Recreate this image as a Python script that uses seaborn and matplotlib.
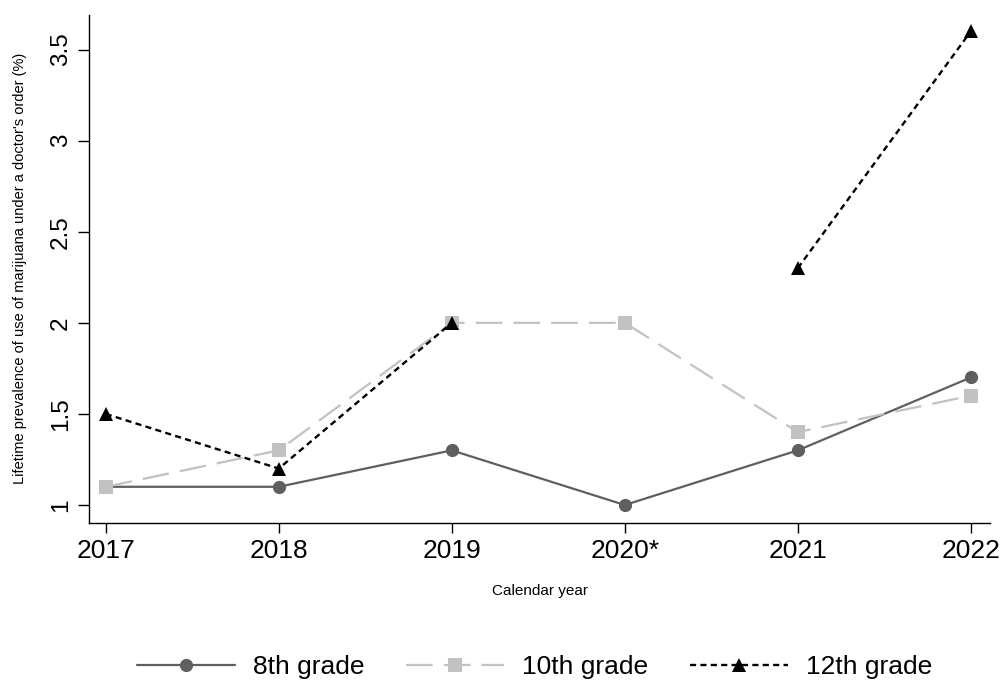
import numpy as np
import pandas as pd
import matplotlib
matplotlib.use("Agg")
import matplotlib.pyplot as plt
import seaborn as sns

# Survey years and lifetime prevalence (%) by grade
years = ["2017", "2018", "2019", "2020*", "2021", "2022"]
grade8 = [1.1, 1.1, 1.3, 1.0, 1.3, 1.7]
grade10 = [1.1, 1.3, 2.0, 2.0, 1.4, 1.6]
grade12 = [1.5, 1.2, 2.0, np.nan, 2.3, 3.6]
y_ticks = [1, 1.5, 2, 2.5, 3, 3.5]
y_tick_labels = ["1", "1.5", "2", "2.5", "3", "3.5"]

series = [
    ("8th grade", grade8, dict(color="#5f5f5f", marker="o", dashes=None, lw=1.6)),
    ("10th grade", grade10, dict(color="#c2c2c2", marker="s", dashes=(12, 5), lw=1.6)),
    ("12th grade", grade12, dict(color="#000000", marker="^", dashes=(2.6, 1.8), lw=1.7)),
]

sns.set_theme(style="ticks")
plt.rcParams["font.family"] = ["Liberation Sans", "DejaVu Sans"]
plt.rcParams.update({
    "text.color": "black",
    "axes.labelcolor": "black",
    "xtick.color": "black",
    "ytick.color": "black",
})

fig = plt.figure(figsize=(10.05, 6.81), dpi=100)
ax = fig.add_axes([0.0889, 0.2325, 0.896, 0.7455])

handles = []
for name, vals, st in series:
    df = pd.DataFrame({"x": np.arange(len(years)), "y": vals})
    ls = "-" if st["dashes"] is None else "--"
    # split at missing values so the line breaks there
    valid = df["y"].notna()
    grp = (~valid).cumsum()[valid]
    for _, seg in df[valid].groupby(grp):
        sns.lineplot(data=seg, x="x", y="y", ax=ax, color=st["color"],
                     marker=st["marker"], markersize=9.5, markeredgewidth=0,
                     linewidth=st["lw"], linestyle=ls, estimator=None,
                     sort=False, legend=False)
        if st["dashes"] is not None:
            ax.lines[-1].set_dashes(st["dashes"])
    h = plt.Line2D([], [], color=st["color"], marker=st["marker"], markersize=9.5,
                   markeredgewidth=0, linewidth=st["lw"], linestyle=ls)
    if st["dashes"] is not None:
        h.set_dashes(st["dashes"])
    handles.append((h, name))

ax.set_xlim(-0.095, 5.11)
ax.set_ylim(0.903, 3.69)
ax.set_xticks(range(len(years)))
ax.set_xticklabels(years, fontsize=19)
ax.set_yticks(y_ticks)
ax.set_yticklabels(y_tick_labels, fontsize=17.5, rotation=90, va="center")
ax.tick_params(axis="x", length=7.5, width=1, color="black", labelcolor="black", pad=4)
ax.tick_params(axis="y", length=8, width=1, color="black", labelcolor="black", pad=4.5)
for s in ["left", "bottom"]:
    ax.spines[s].set_color("black")
    ax.spines[s].set_linewidth(1)
sns.despine(ax=ax)

ax.set_xlabel("Calendar year", fontsize=11, color="black")
ax.xaxis.set_label_coords(0.5, -0.1217)
ax.set_ylabel("Lifetime prevalence of use of marijuana under a doctor's order (%)",
              fontsize=10.5, color="black")
ax.yaxis.set_label_coords(-0.069, 0.5)

leg = fig.legend([h for h, _ in handles], [n for _, n in handles], loc="center",
                 bbox_to_anchor=(0.532, 0.0206), ncol=3, frameon=False, fontsize=19,
                 handlelength=3.7, handletextpad=0.68, columnspacing=1.6)
for t in leg.get_texts():
    t.set_color("black")

fig.savefig("out.png", dpi=100, facecolor="white")
